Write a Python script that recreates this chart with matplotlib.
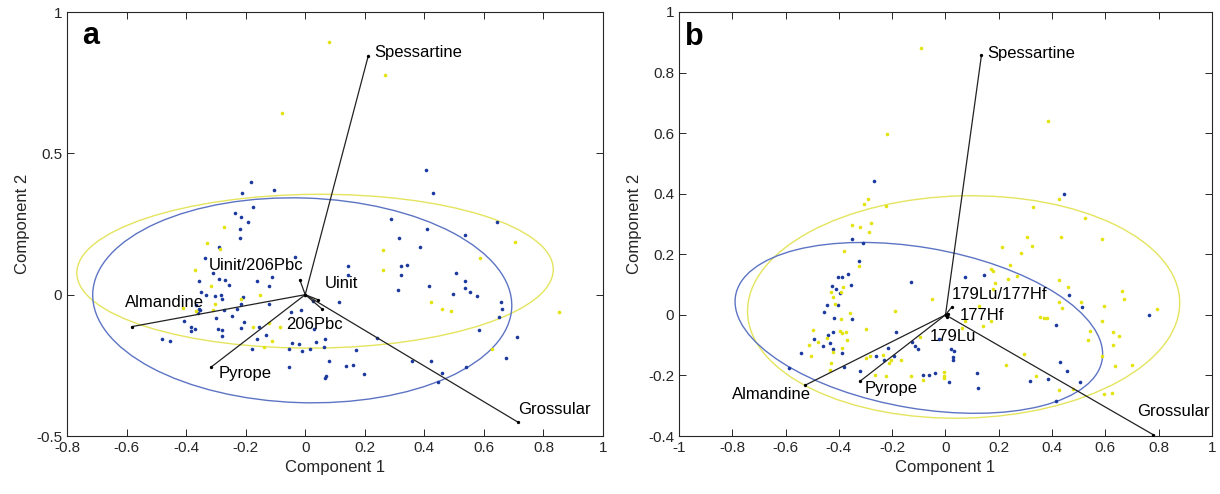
import numpy as np
import matplotlib
matplotlib.use("Agg")
import matplotlib.pyplot as plt
from matplotlib.patches import Ellipse

plt.rcParams['font.family'] = ['Liberation Sans', 'DejaVu Sans']

# ---- panel a : scores ----
a_blue_x = [0.405, 0.429, -0.181, -0.106, -0.212, -0.174, -0.236, -0.215, -0.192, -0.22, -0.219,
            0.288, 0.408, 0.644, 0.316, 0.538,
            -0.289, -0.336, -0.034, -0.309, -0.356, -0.291, -0.269, -0.255, -0.162, -0.112, -0.121,
            -0.349, -0.333, -0.302, -0.283, -0.278, -0.21, -0.215, -0.229, -0.274, -0.367, -0.358,
            -0.352, -0.36, -0.121, -0.298, -0.246, -0.406, -0.205, -0.214, -0.154, -0.048, -0.014,
            -0.382, -0.369, -0.384, -0.294, -0.278, -0.278, -0.132, -0.162, -0.481, -0.453, -0.18,
            -0.056, -0.043, -0.022, -0.011, 0.016, 0.036, 0.064, 0.066, 0.031, 0.025, 0.081, -0.054,
            0.069, 0.065,
            0.386, 0.144, 0.144, 0.32, 0.342, 0.32, 0.311, 0.505, 0.415, 0.537, 0.535, 0.554, 0.578,
            0.496, 0.658, 0.66, 0.652, 0.114, 0.585, 0.712, 0.24, 0.172, 0.675, 0.137, 0.16, 0.197,
            0.36, 0.423, 0.54, 0.46, 0.447]
a_blue_y = [0.44, 0.358, 0.397, 0.37, 0.359, 0.309, 0.29, 0.273, 0.258, 0.232, 0.202,
            0.268, 0.231, 0.256, 0.199, 0.21,
            0.169, 0.13, 0.133, 0.077, 0.05, 0.056, 0.051, 0.033, 0.047, 0.061, 0.032,
            0.01, 0.0, -0.004, -0.001, -0.014, -0.01, -0.033, -0.05, -0.053, -0.035, -0.05,
            -0.055, -0.065, -0.032, -0.083, -0.074, -0.094, -0.098, -0.118, -0.114, -0.062, -0.055,
            -0.114, -0.121, -0.13, -0.121, -0.124, -0.145, -0.143, -0.157, -0.157, -0.163, -0.191,
            -0.192, -0.171, -0.173, -0.198, -0.191, -0.167, -0.185, -0.157, -0.121, -0.024, -0.234, -0.257,
            -0.289, -0.295,
            0.169, 0.1, 0.071, 0.1, 0.104, 0.07, 0.018, 0.075, 0.031, 0.048, 0.025, 0.011, -0.004,
            0.001, -0.027, -0.051, -0.079, -0.026, -0.125, -0.15, -0.153, -0.195, -0.224, -0.254, -0.25, -0.282,
            -0.235, -0.234, -0.256, -0.277, -0.31]
a_yel_x = [0.081, 0.267, -0.078, -0.274, -0.33, -0.286, -0.37, -0.317, -0.152, -0.302, -0.216,
           -0.311, -0.367, -0.409, -0.174, -0.121, -0.085, -0.112, -0.14,
           0.26, 0.705, 0.588, 0.26, 0.424, 0.459, 0.491, 0.852, 0.628]
a_yel_y = [0.893, 0.778, 0.643, 0.241, 0.183, 0.162, 0.086, 0.032, -0.002, -0.032, -0.015,
           -0.053, -0.059, -0.047, -0.114, -0.1, -0.114, -0.165, -0.185,
           0.159, 0.186, 0.13, 0.088, -0.025, -0.05, -0.059, -0.062, -0.192]

# ---- panel a : loadings ----
a_vars = ['Spessartine', 'Almandine', 'Pyrope', 'Grossular', 'Uinit/206Pbc', 'Uinit', '206Pbc']
a_load_x = [0.212, -0.582, -0.317, 0.716, -0.018, 0.043, 0.058]
a_load_y = [0.846, -0.113, -0.257, -0.452, 0.052, -0.018, -0.052]
a_lab_x = [0.232, -0.604, -0.292, 0.714, -0.324, 0.067, -0.065]
a_lab_y = [0.857, -0.027, -0.28, -0.405, 0.103, 0.039, -0.104]

# ---- panel b : scores ----
b_blue_x = [-0.269, 0.444, -0.35, -0.308,
            -0.324, -0.364, -0.402, -0.389, -0.356, -0.426, -0.411, -0.396, -0.445, -0.403, -0.457,
            -0.418, -0.349, -0.423, -0.44, -0.493, -0.435, -0.461, -0.423, -0.389, -0.544, -0.587,
            -0.381, -0.322, -0.187, -0.13, -0.124, -0.113, -0.104, -0.215, -0.193, -0.259, -0.229,
            -0.084, -0.063, -0.041, -0.026,
            0.075, 0.145, 0.465, 0.511, 0.763, 0.414, 0.429, 0.457, 0.318, 0.384, 0.503, 0.413,
            0.021, 0.033, 0.03, 0.027, 0.013, 0.117, 0.122]
b_blue_y = [0.443, 0.4, 0.252, 0.237,
            0.178, 0.134, 0.126, 0.126, 0.098, 0.095, 0.087, 0.071, 0.034, 0.031, 0.008,
            -0.012, -0.014, -0.055, -0.065, -0.08, -0.092, -0.104, -0.113, -0.127, -0.127, -0.177,
            -0.173, -0.184, -0.055, 0.107, -0.088, -0.102, -0.113, -0.111, -0.135, -0.135, -0.148,
            -0.198, -0.2, -0.192, -0.079,
            0.126, 0.132, 0.065, 0.026, -0.001, -0.034, -0.157, -0.185, -0.218, -0.211, -0.221, -0.284,
            -0.113, -0.12, -0.138, -0.149, -0.221, -0.193, -0.24]
b_yel_x = [-0.093, -0.219, 0.386, 0.425, -0.291, -0.304, -0.225, 0.328, 0.525, -0.35, -0.32,
           -0.278, -0.286, 0.304, 0.434, 0.589, 0.212, 0.326,
           -0.38, -0.326, -0.385, -0.431, -0.393, -0.421, -0.413, -0.359, -0.391, -0.499, -0.299,
           -0.396, -0.387, -0.372, -0.445, -0.479, -0.369, -0.514, -0.422, -0.39, -0.503, -0.429,
           -0.434, -0.188, -0.049, -0.097, -0.284, -0.3, -0.236, -0.205, -0.212, -0.166, -0.264,
           -0.224, -0.129, -0.084, -0.006, -0.004, -0.004,
           0.283, 0.243, 0.169, 0.178, 0.27, 0.185, 0.236, 0.178, 0.127, 0.139, 0.171, 0.072, 0.062,
           0.427, 0.461, 0.427, 0.436, 0.508, 0.596, 0.664, 0.668, 0.795, 0.355, 0.371, 0.38,
           0.589, 0.544, 0.535, 0.627, 0.652, 0.628, 0.586, 0.637, 0.699, 0.293, 0.228, 0.338,
           0.425, 0.48, 0.595, 0.624]
b_yel_y = [0.88, 0.597, 0.639, 0.381, 0.384, 0.366, 0.361, 0.357, 0.319, 0.298, 0.289,
           0.304, 0.275, 0.258, 0.256, 0.251, 0.224, 0.227,
           0.211, 0.16, 0.093, 0.076, 0.076, 0.058, 0.037, 0.007, -0.014, -0.049, -0.047,
           -0.053, -0.06, -0.058, -0.077, -0.091, -0.082, -0.099, -0.122, -0.11, -0.137, -0.159,
           -0.182, 0.012, 0.052, -0.073, -0.135, -0.143, -0.133, -0.148, -0.159, -0.148, -0.198,
           -0.201, -0.201, -0.214, -0.188, -0.201, -0.21,
           0.205, 0.164, 0.153, 0.146, 0.129, 0.105, 0.118, 0.087, 0.03, -0.036, -0.02, -0.02, -0.045,
           0.116, 0.092, 0.043, 0.023, 0.044, 0.029, 0.079, 0.052, 0.018, -0.007, -0.012, -0.01,
           -0.02, -0.052, -0.084, -0.057, -0.069, -0.1, -0.135, -0.168, -0.165, -0.129, -0.166, -0.202,
           -0.249, -0.245, -0.26, -0.257]

# ---- panel b : loadings ----
b_vars = ['Spessartine', 'Almandine', 'Pyrope', 'Grossular', '179Lu/177Hf', '177Hf', '179Lu']
b_load_x = [0.135, -0.526, -0.322, 0.78, 0.023, 0.008, 0.004]
b_load_y = [0.858, -0.232, -0.22, -0.396, 0.025, 0.004, -0.006]
b_lab_x = [0.156, -0.803, -0.305, 0.72, 0.023, 0.053, -0.058]
b_lab_y = [0.862, -0.264, -0.244, -0.318, 0.068, -0.003, -0.071]

# ellipses: centre x, centre y, width, height, angle
a_ell_blue = [-0.01, -0.02, 1.408, 0.724, -2]
a_ell_yel = [0.033, 0.083, 1.6, 0.544, 0.5]
b_ell_blue = [-0.1, -0.043, 1.392, 0.532, -8.4]
b_ell_yel = [0.068, 0.026, 1.622, 0.734, 1.2]

BLUE = '#1c3a9e'
YEL = '#e3e312'
BLUE_E = '#5d74c4'
YEL_E = '#e4e45e'
AX = '#262626'

fig = plt.figure(figsize=(12.2, 4.94), dpi=100)
ax_a = fig.add_axes([67/1220, 1-436/494, 536/1220, 424/494])
ax_b = fig.add_axes([679/1220, 1-436/494, 533/1220, 424/494])


def draw(ax, bx, by, yx, yy, e_blue, e_yel, names, lx, ly, tx, ty):
    ax.add_patch(Ellipse((e_yel[0], e_yel[1]), e_yel[2], e_yel[3], angle=e_yel[4],
                         fill=False, ec=YEL_E, lw=1.0, zorder=1))
    ax.add_patch(Ellipse((e_blue[0], e_blue[1]), e_blue[2], e_blue[3], angle=e_blue[4],
                         fill=False, ec=BLUE_E, lw=1.0, zorder=1))
    ax.plot(bx, by, 'o', color=BLUE, ms=2.6, mew=0, zorder=2)
    ax.plot(yx, yy, 'o', color=YEL, ms=2.6, mew=0, zorder=2)
    for i in range(len(names)):
        ax.plot([0, lx[i]], [0, ly[i]], color='#222222', lw=0.9, zorder=3)
        ax.plot(lx[i], ly[i], 'o', color='black', ms=2.4, mew=0, zorder=4)
        ax.text(tx[i], ty[i], names[i], fontsize=12, ha='left', va='center', color='black', zorder=5)
    ax.plot(0, 0, 'o', color='black', ms=2.6, mew=0, zorder=4)
    ax.set_xlabel('Component 1', fontsize=12, color=AX)
    ax.set_ylabel('Component 2', fontsize=12, color=AX)
    ax.tick_params(direction='in', top=True, right=True, labelsize=11, colors=AX, length=5, width=0.7)
    for s in ax.spines.values():
        s.set_color(AX)
        s.set_linewidth(0.8)


draw(ax_a, a_blue_x, a_blue_y, a_yel_x, a_yel_y, a_ell_blue, a_ell_yel,
     a_vars, a_load_x, a_load_y, a_lab_x, a_lab_y)
ax_a.set_xlim(-0.8, 1)
ax_a.set_ylim(-0.5, 1)
ax_a.set_xticks(np.arange(-0.8, 1.01, 0.2))
ax_a.set_xticklabels(['-0.8', '-0.6', '-0.4', '-0.2', '0', '0.2', '0.4', '0.6', '0.8', '1'])
ax_a.set_yticks([-0.5, 0, 0.5, 1])
ax_a.set_yticklabels(['-0.5', '0', '0.5', '1'])
ax_a.text(0.028, 0.943, 'a', transform=ax_a.transAxes, fontsize=22, fontweight='bold',
          ha='left', va='center')

draw(ax_b, b_blue_x, b_blue_y, b_yel_x, b_yel_y, b_ell_blue, b_ell_yel,
     b_vars, b_load_x, b_load_y, b_lab_x, b_lab_y)
ax_b.set_xlim(-1, 1)
ax_b.set_ylim(-0.4, 1)
ax_b.set_xticks(np.arange(-1, 1.01, 0.2))
ax_b.set_xticklabels(['-1', '-0.8', '-0.6', '-0.4', '-0.2', '0', '0.2', '0.4', '0.6', '0.8', '1'])
ax_b.set_yticks(np.arange(-0.4, 1.01, 0.2))
ax_b.set_yticklabels(['-0.4', '-0.2', '0', '0.2', '0.4', '0.6', '0.8', '1'])
ax_b.text(0.012, 0.94, 'b', transform=ax_b.transAxes, fontsize=22, fontweight='bold',
          ha='left', va='center')

fig.savefig('out.png', dpi=100)
